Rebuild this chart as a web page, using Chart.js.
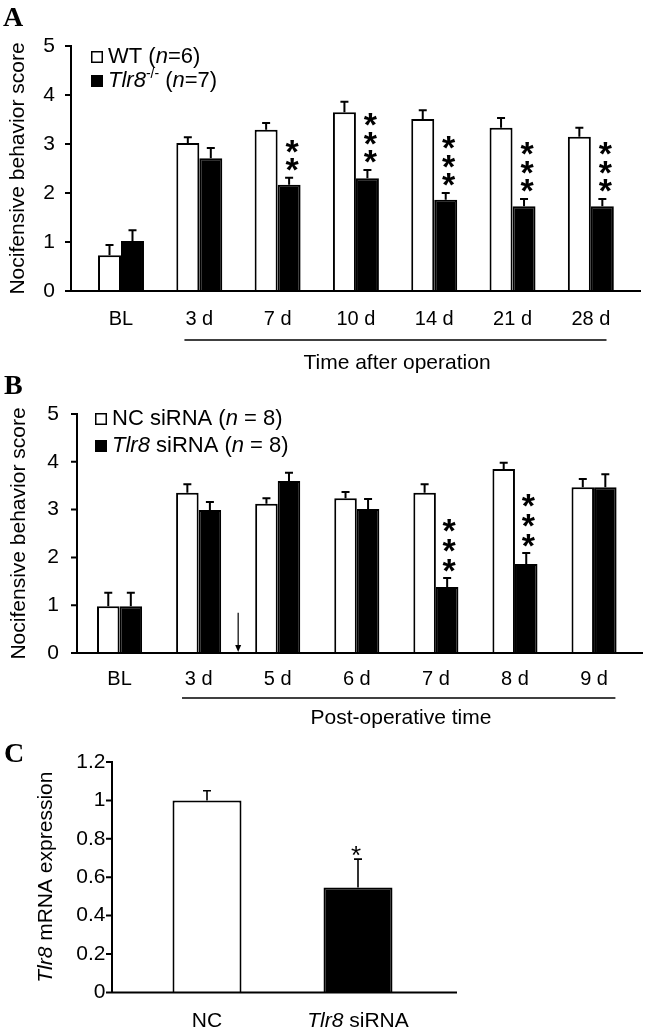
<!DOCTYPE html>
<html><head><meta charset="utf-8">
<script src="https://cdn.jsdelivr.net/npm/chart.js@4.4.1/dist/chart.umd.min.js"></script>
<style>
html,body{margin:0;padding:0;background:#fff;}
#wrap{position:relative;width:645px;height:1031px;background:#fff;overflow:hidden;}
#wrap canvas{position:absolute;left:0;top:0;}
</style></head><body>
<div id="wrap">
<canvas id="cA" width="645" height="1031" style="width:645px;height:1031px"></canvas>
<canvas id="cB" width="645" height="1031" style="width:645px;height:1031px"></canvas>
<canvas id="cC" width="645" height="1031" style="width:645px;height:1031px"></canvas>
</div>
<script>
// ---------- DATA ----------
const catsA = ['BL', '3 d', '7 d', '10 d', '14 d', '21 d', '28 d'];
const wtA    = [0.73, 3.02, 3.29, 3.65, 3.51, 3.33, 3.15];
const wtAErr = [0.21, 0.12, 0.14, 0.21, 0.18, 0.20, 0.18];
const koA    = [1.02, 2.71, 2.17, 2.30, 1.86, 1.73, 1.73];
const koAErr = [0.22, 0.21, 0.14, 0.17, 0.14, 0.15, 0.15];
const sigA   = [0, 0, 2, 3, 3, 3, 3];
const yTicksA = [0, 1, 2, 3, 4, 5];

const catsB = ['BL', '3 d', '5 d', '6 d', '7 d', '8 d', '9 d'];
const ncB    = [0.98, 3.35, 3.12, 3.24, 3.35, 3.85, 3.47];
const ncBErr = [0.28, 0.18, 0.12, 0.13, 0.18, 0.13, 0.17];
const siB    = [0.98, 2.99, 3.60, 3.01, 1.38, 1.86, 3.47];
const siBErr = [0.28, 0.17, 0.17, 0.21, 0.19, 0.23, 0.27];
const sigB   = [0, 0, 0, 0, 3, 3, 0];
const yTicksB = [0, 1, 2, 3, 4, 5];

const catsC = ['NC', 'Tlr8 siRNA'];
const valC  = [1.00, 0.547];
const errC  = [0.05, 0.147];
const sigC  = [0, 1];
const yTicksC = [0, 0.2, 0.4, 0.6, 0.8, 1.0, 1.2];

// ---------- STYLE ----------
const FONT = "'Liberation Sans', Arial, Helvetica, sans-serif";
const SERIF = "'Liberation Serif', 'Times New Roman', serif";
Chart.defaults.font.family = FONT;
Chart.defaults.color = '#000';

function drawRich(ctx, parts, x, y, size, align) {
  const fontOf = s => (s === 'i' ? 'italic ' : '') + (s === 'sup' ? Math.round(size * 0.62) : size) + 'px ' + FONT;
  let total = 0;
  parts.forEach(([t, s]) => { ctx.font = fontOf(s); total += ctx.measureText(t).width; });
  let cx = align === 'center' ? x - total / 2 : x;
  ctx.textAlign = 'left';
  parts.forEach(([t, s]) => {
    ctx.font = fontOf(s);
    ctx.fillText(t, cx, s === 'sup' ? y - size * 0.32 : y);
    cx += ctx.measureText(t).width;
  });
}

function labelParts(lbl) {
  if (lbl.startsWith('Tlr8 ')) return [['Tlr8', 'i'], [lbl.slice(4), '']];
  return [[lbl, '']];
}

function makeDecor(p) {
  return {
    id: 'decor' + p.letter,
    afterDraw(chart) {
      const ctx = chart.ctx, xs = chart.scales.x, ys = chart.scales.y;
      const y0 = ys.getPixelForValue(0), yT = ys.getPixelForValue(p.yMax);
      ctx.save();
      ctx.strokeStyle = '#000'; ctx.fillStyle = '#000'; ctx.lineWidth = 2;
      // axes + y tick marks
      ctx.beginPath();
      ctx.moveTo(p.axisX, yT - 1); ctx.lineTo(p.axisX, y0 + 1);
      ctx.moveTo(p.axisX - 1, y0); ctx.lineTo(p.axisEnd, y0);
      p.ticks.forEach(v => { const yy = ys.getPixelForValue(v); ctx.moveTo(p.axisX - 6, yy); ctx.lineTo(p.axisX, yy); });
      ctx.stroke();
      // error bars (upper)
      ctx.lineWidth = p.errW;
      chart.data.datasets.forEach((ds, di) => {
        chart.getDatasetMeta(di).data.forEach((el, i) => {
          const top = ys.getPixelForValue(ds.data[i]);
          const et = ys.getPixelForValue(ds.data[i] + ds.err[i]);
          ctx.beginPath();
          ctx.moveTo(el.x, top); ctx.lineTo(el.x, et);
          ctx.moveTo(el.x - p.cap, et); ctx.lineTo(el.x + p.cap, et);
          ctx.stroke();
        });
      });
      // significance asterisks
      const sd = chart.data.datasets[p.sigDs];
      const smeta = chart.getDatasetMeta(p.sigDs);
      ctx.font = p.starWeight + ' ' + p.starSize + 'px ' + FONT; ctx.textAlign = 'center'; ctx.textBaseline = 'alphabetic';
      p.sig.forEach((n, i) => {
        const el = smeta.data[i];
        const et = ys.getPixelForValue(sd.data[i] + sd.err[i]);
        for (let k = 0; k < n; k++) {
          const cy = et - p.starGap - k * p.starStep;
          ctx.fillText('*', el.x + p.starDx, cy + p.starSize * 0.57);
        }
      });
      ctx.textBaseline = 'middle';
      // legend
      (p.legend || []).forEach(item => {
        const b = p.boxSize;
        ctx.fillStyle = item.fill;
        ctx.fillRect(p.legendX, item.y - b / 2, b, b);
        ctx.strokeStyle = '#000'; ctx.lineWidth = 1.5;
        ctx.strokeRect(p.legendX + 0.75, item.y - b / 2 + 0.75, b - 1.5, b - 1.5);
        ctx.fillStyle = '#000';
        drawRich(ctx, item.parts, p.legendX + b + 5, item.y, p.legendSize, 'left');
      });
      // group underline + caption
      if (p.underline) {
        const w = xs.getPixelForValue(1) - xs.getPixelForValue(0);
        const x1 = xs.getPixelForValue(1) - w * p.underline.l;
        const x2 = xs.getPixelForValue(xs.ticks.length - 1) + w * p.underline.r;
        ctx.lineWidth = 1.5;
        ctx.beginPath(); ctx.moveTo(x1, p.underline.y); ctx.lineTo(x2, p.underline.y); ctx.stroke();
        ctx.font = p.captionSize + 'px ' + FONT; ctx.textAlign = 'center';
        ctx.fillText(p.caption, p.captionX, p.captionY);
      }
      // arrow (siRNA injection)
      if (p.arrow) {
        const ax = (xs.getPixelForValue(p.arrow.between) + xs.getPixelForValue(p.arrow.between + 1)) / 2;
        const aTop = ys.getPixelForValue(p.arrow.from);
        ctx.lineWidth = 1.2;
        ctx.beginPath(); ctx.moveTo(ax, aTop); ctx.lineTo(ax, y0 - 6); ctx.stroke();
        ctx.beginPath(); ctx.moveTo(ax - 3, y0 - 8); ctx.lineTo(ax + 3, y0 - 8); ctx.lineTo(ax, y0 - 1); ctx.closePath(); ctx.fill();
      }
      // custom x labels (rich)
      if (p.richX) {
        xs.ticks.forEach((t, i) => {
          drawRich(ctx, labelParts(chart.data.labels[i]), xs.getPixelForValue(i), p.richXY, p.richXSize, 'center');
        });
      }
      // custom rotated y title (rich)
      if (p.richTitle) {
        ctx.save();
        ctx.translate(p.richTitle.x, (y0 + yT) / 2);
        ctx.rotate(-Math.PI / 2);
        drawRich(ctx, p.richTitle.parts, 0, 0, p.richTitle.size, 'center');
        ctx.restore();
      }
      // panel letter
      ctx.font = 'bold ' + p.letterSize + 'px ' + SERIF; ctx.textAlign = 'left'; ctx.textBaseline = 'alphabetic';
      ctx.fillText(p.letter, p.letterX, p.letterY);
      ctx.restore();
    }
  };
}

function groupedChart(id, labels, s1, s2, area, p) {
  const xH = 40;
  return new Chart(document.getElementById(id), {
    type: 'bar',
    data: {
      labels: labels,
      datasets: [
        { label: p.names[0], data: s1.v, err: s1.e, backgroundColor: '#fff', borderColor: '#000', borderWidth: 2 },
        { label: p.names[1], data: s2.v, err: s2.e, backgroundColor: '#000', borderColor: '#000', borderWidth: 2 }
      ]
    },
    options: {
      responsive: false, animation: false, devicePixelRatio: 1,
      events: [],
      layout: { padding: { left: 0, top: area.top, right: 645 - area.right, bottom: 1031 - area.bottom - xH } },
      plugins: { legend: { display: false }, tooltip: { enabled: false } },
      datasets: { bar: { barPercentage: 1, categoryPercentage: p.cp } },
      scales: {
        x: {
          offset: true,
          grid: { display: false, drawTicks: false }, border: { display: false },
          ticks: { font: { size: 20 }, color: '#000', padding: p.xPad, maxRotation: 0, autoSkip: false },
          afterFit: s => { s.height = xH; }
        },
        y: {
          min: 0, max: p.yMax,
          afterBuildTicks: s => { s.ticks = p.ticks.map(v => ({ value: v })); },
          ticks: { font: { size: 21 }, color: '#000', padding: p.yPad },
          grid: { display: false, drawTicks: false }, border: { display: false },
          title: { display: true, text: 'Nocifensive behavior score', font: { size: 21 }, color: '#000', padding: { top: p.tPad, bottom: 0 } },
          afterFit: s => { s.width = area.left; }
        }
      }
    },
    plugins: [makeDecor(p)]
  });
}

// ---------- PANEL A ----------
groupedChart('cA', catsA, { v: wtA, e: wtAErr }, { v: koA, e: koAErr },
  { left: 81.85, right: 630, top: 46, bottom: 291 },
  {
    names: ['WT (n=6)', 'Tlr8-/- (n=7)'], cp: 0.587, xPad: 16, yPad: 27, tPad: 6, yMax: 5, ticks: yTicksA,
    axisX: 71, axisEnd: 641, errW: 2, cap: 4,
    sig: sigA, sigDs: 1, starSize: 34, starWeight: 'bold', starGap: 16, starStep: 18.5, starDx: 3,
    legendX: 91, legendSize: 22, boxSize: 12,
    legend: [
      { fill: '#fff', y: 57, parts: [['WT (', ''], ['n', 'i'], ['=6)', '']] },
      { fill: '#000', y: 81, parts: [['Tlr8', 'i'], ['-/-', 'sup'], [' (', ''], ['n', 'i'], ['=7)', '']] }
    ],
    underline: { y: 340, l: 0.19, r: 0.2 }, caption: 'Time after operation', captionX: 397, captionY: 363, captionSize: 21,
    letter: 'A', letterX: 3, letterY: 26, letterSize: 28
  });

// ---------- PANEL B ----------
groupedChart('cB', catsB, { v: ncB, e: ncBErr }, { v: siB, e: siBErr },
  { left: 80, right: 633.6, top: 414, bottom: 653 },
  {
    names: ['NC siRNA (n = 8)', 'Tlr8 siRNA (n = 8)'], cp: 0.57, xPad: 14, yPad: 21, tPad: 7, yMax: 5, ticks: yTicksB,
    axisX: 77, axisEnd: 643, errW: 2, cap: 4,
    sig: sigB, sigDs: 1, starSize: 34, starWeight: 'bold', starGap: 15, starStep: 20, starDx: 2,
    legendX: 95, legendSize: 22, boxSize: 12,
    legend: [
      { fill: '#fff', y: 419, parts: [['NC siRNA (', ''], ['n', 'i'], [' = 8)', '']] },
      { fill: '#000', y: 446, parts: [['Tlr8', 'i'], [' siRNA (', ''], ['n', 'i'], [' = 8)', '']] }
    ],
    underline: { y: 698, l: 0.21, r: 0.27 }, caption: 'Post-operative time', captionX: 401, captionY: 718, captionSize: 21,
    arrow: { between: 1, from: 0.84 },
    letter: 'B', letterX: 4, letterY: 394, letterSize: 28
  });

// ---------- PANEL C ----------
(function () {
  const area = { left: 131.5, right: 433.5, top: 762, bottom: 999 };
  const xH = 30;
  const p = {
    yMax: 1.2, ticks: yTicksC, axisX: 112, axisEnd: 457, errW: 1.6, cap: 4,
    sig: sigC, sigDs: 0, starSize: 26, starWeight: 'normal', starGap: 10, starStep: 14, starDx: -2,
    richX: true, richXY: 1021, richXSize: 21,
    richTitle: { x: 46, size: 21, parts: [['Tlr8', 'i'], [' mRNA expression', '']] },
    letter: 'C', letterX: 4, letterY: 762, letterSize: 28
  };
  new Chart(document.getElementById('cC'), {
    type: 'bar',
    data: {
      labels: catsC,
      datasets: [{ label: 'Tlr8 mRNA expression', data: valC, err: errC, backgroundColor: ['#fff', '#000'], borderColor: '#000', borderWidth: 2 }]
    },
    options: {
      responsive: false, animation: false, devicePixelRatio: 1, events: [],
      layout: { padding: { left: 0, top: area.top, right: 645 - area.right, bottom: 1031 - area.bottom - xH } },
      plugins: { legend: { display: false }, tooltip: { enabled: false } },
      datasets: { bar: { barPercentage: 1, categoryPercentage: 0.457 } },
      scales: {
        x: {
          offset: true, grid: { display: false, drawTicks: false }, border: { display: false },
          ticks: { display: false }, afterFit: s => { s.height = xH; }
        },
        y: {
          min: 0, max: 1.2,
          afterBuildTicks: s => { s.ticks = yTicksC.map(v => ({ value: v })); },
          ticks: { font: { size: 21 }, color: '#000', padding: 26, callback: v => String(Math.round(v * 10) / 10) },
          grid: { display: false, drawTicks: false }, border: { display: false },
          afterFit: s => { s.width = area.left; }
        }
      }
    },
    plugins: [makeDecor(p)]
  });
})();
</script>
</body></html>
